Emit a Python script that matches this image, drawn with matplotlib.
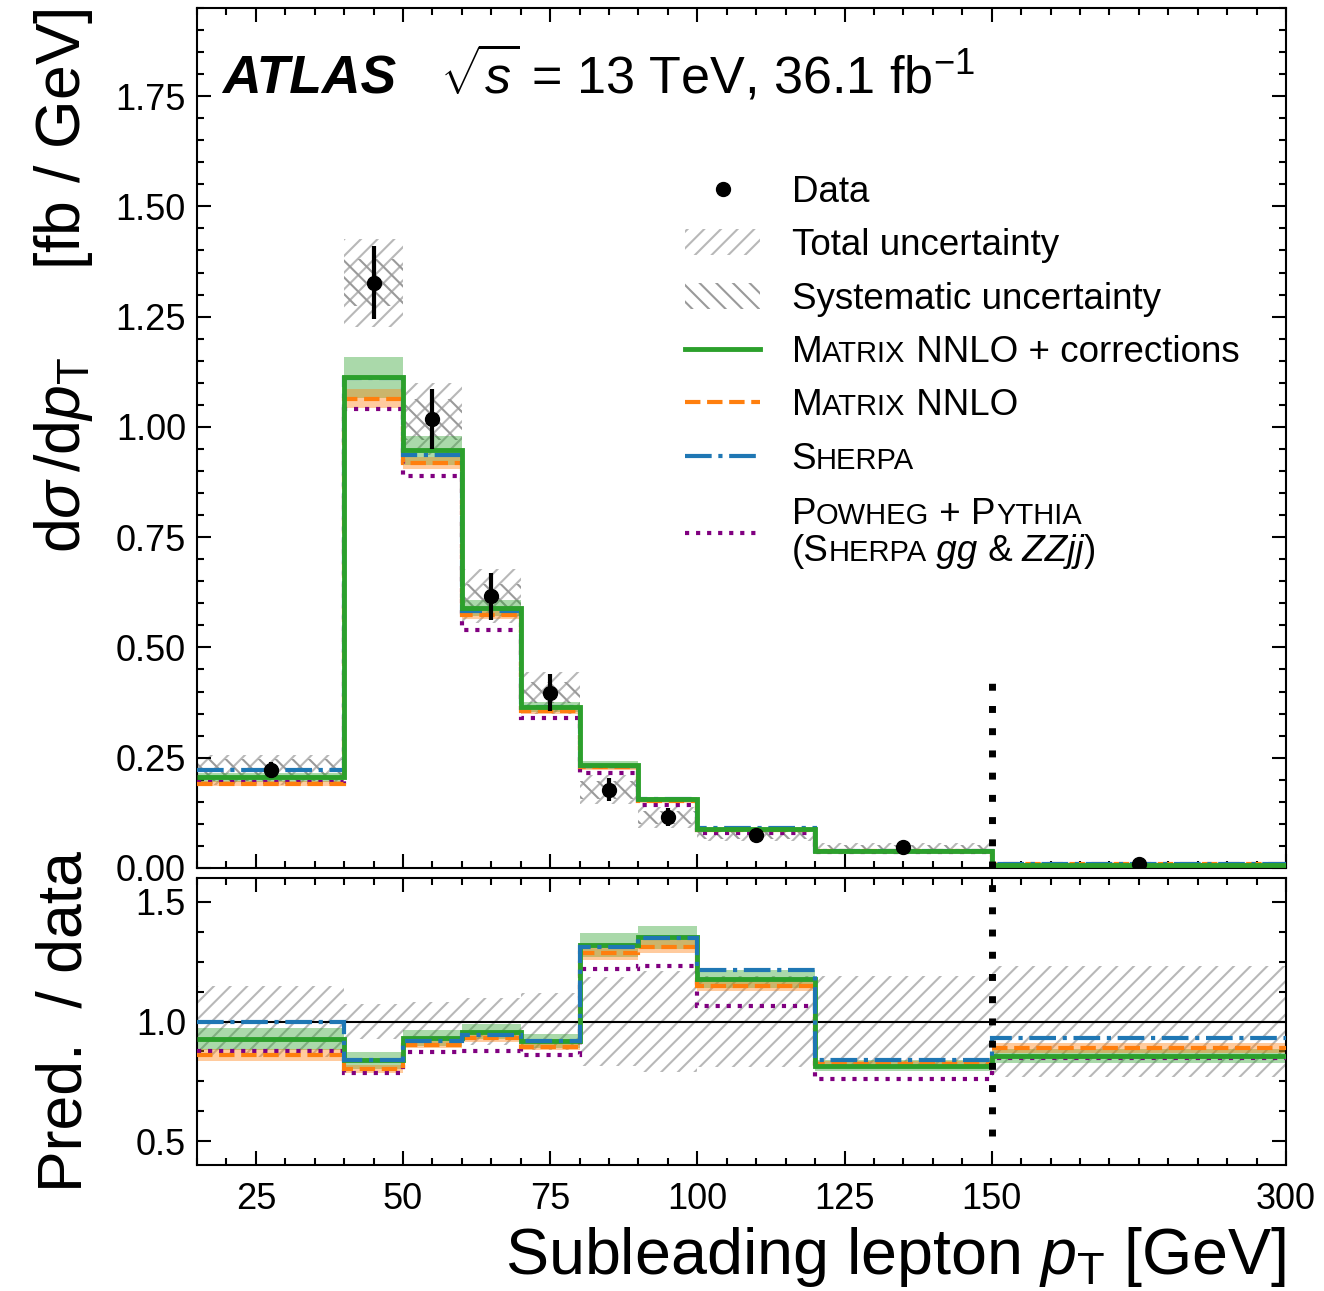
import matplotlib
matplotlib.use('Agg')
import matplotlib.pyplot as plt
import numpy as np
from matplotlib.lines import Line2D
from matplotlib.patches import Patch
from matplotlib.ticker import MultipleLocator, FixedLocator
from matplotlib.offsetbox import TextArea, HPacker, VPacker, AnnotationBbox

plt.rcParams['font.family'] = 'Liberation Sans'
plt.rcParams['mathtext.fontset'] = 'custom'
plt.rcParams['mathtext.rm'] = 'Liberation Sans'
plt.rcParams['mathtext.it'] = 'Liberation Sans:italic'
plt.rcParams['mathtext.bf'] = 'Liberation Sans:bold'
plt.rcParams['hatch.linewidth'] = 1.5

# --- data ---
# bin edges, the last bin (150-300 GeV) is drawn squeezed into 150-200
edges = [15, 40, 50, 60, 70, 80, 90, 100, 120, 150, 200]
tick_pos = [25, 50, 75, 100, 125, 150, 200]
tick_lab = ['25', '50', '75', '100', '125', '150', '300']

data = [0.222, 1.327, 1.017, 0.616, 0.397, 0.177, 0.115, 0.075, 0.047, 0.009]
data_stat = [0.018, 0.083, 0.068, 0.053, 0.042, 0.026, 0.020, 0.012, 0.006, 0.002]
total_rel = [0.15, 0.075, 0.08, 0.10, 0.12, 0.185, 0.21, 0.19, 0.19, 0.23]
syst_rel = [0.11, 0.04, 0.045, 0.045, 0.06, 0.12, 0.13, 0.13, 0.13, 0.12]

# predictions divided by data
r_matrix_corr = [0.927, 0.838, 0.931, 0.958, 0.92, 1.319, 1.353, 1.177, 0.816, 0.855]
r_matrix_corr_unc = [0.045, 0.035, 0.032, 0.03, 0.029, 0.05, 0.048, 0.038, 0.025, 0.03]
r_matrix = [0.86, 0.802, 0.903, 0.93, 0.895, 1.288, 1.313, 1.147, 0.823, 0.89]
r_matrix_unc = [0.024, 0.016, 0.014, 0.014, 0.014, 0.03, 0.026, 0.021, 0.01, 0.022]
r_sherpa = [1.0, 0.837, 0.92, 0.945, 0.918, 1.312, 1.35, 1.216, 0.837, 0.931]
r_powheg = [0.878, 0.784, 0.874, 0.877, 0.858, 1.219, 1.233, 1.066, 0.76, 0.848]

edges = np.array(edges, dtype=float)
centers = 0.5 * (edges[1:] + edges[:-1])
widths = np.diff(edges)
data = np.array(data)
total_rel = np.array(total_rel)
syst_rel = np.array(syst_rel)
r_matrix_corr = np.array(r_matrix_corr)
r_matrix_corr_unc = np.array(r_matrix_corr_unc)
r_matrix = np.array(r_matrix)
r_matrix_unc = np.array(r_matrix_unc)
r_sherpa = np.array(r_sherpa)
r_powheg = np.array(r_powheg)

C_GREEN = '#2ca02c'
C_ORANGE = '#ff7f0e'
C_BLUE = '#1f77b4'
C_PURPLE = 'purple'
TOT_COL = '#b8b8b8'
SYS_COL = '#9a9a9a'
FS = 26.5
SC = 21

fig = plt.figure(figsize=(13.24, 12.91), dpi=100)
ax = fig.add_axes([0.1488, 0.3277, 0.8225, 0.6662])
rax = fig.add_axes([0.1488, 0.0976, 0.8225, 0.2223])


def draw_panel(a, scale, show_data):
    # scale = data for the cross-section panel, 1 for the ratio panel
    a.bar(centers, 2 * scale * total_rel, width=widths, bottom=scale * (1 - total_rel),
          fill=False, hatch='//', edgecolor=TOT_COL, lw=0, zorder=1)
    if show_data:
        a.bar(centers, 2 * scale * syst_rel, width=widths, bottom=scale * (1 - syst_rel),
              fill=False, hatch='\\\\', edgecolor=SYS_COL, lw=0, zorder=1)
    a.bar(centers, 2 * scale * r_matrix_corr_unc, width=widths,
          bottom=scale * (r_matrix_corr - r_matrix_corr_unc),
          color=C_GREEN, alpha=0.4, lw=0, zorder=2)
    a.bar(centers, 2 * scale * r_matrix_unc, width=widths,
          bottom=scale * (r_matrix - r_matrix_unc),
          color=C_ORANGE, alpha=0.4, lw=0, zorder=2)
    a.stairs(scale * r_powheg, edges, baseline=None, color=C_PURPLE, ls=':', lw=3, zorder=3)
    a.stairs(scale * r_matrix, edges, baseline=None, color=C_ORANGE, ls='--', lw=3, zorder=3)
    if show_data:
        a.stairs(scale * r_sherpa, edges, baseline=None, color=C_BLUE, ls='-.', lw=3, zorder=4)
        a.stairs(scale * r_matrix_corr, edges, baseline=None, color=C_GREEN, ls='-', lw=3.5, zorder=5)
        a.errorbar(centers, data, yerr=data_stat, fmt='o', color='k', ms=10,
                   elinewidth=3, capsize=0, zorder=10)
    else:
        a.stairs(scale * r_matrix_corr, edges, baseline=None, color=C_GREEN, ls='-', lw=3.5, zorder=4)
        a.stairs(scale * r_sherpa, edges, baseline=None, color=C_BLUE, ls='-.', lw=3, zorder=5)


draw_panel(ax, data, True)
draw_panel(rax, 1.0, False)
rax.axhline(1.0, color='k', lw=1.5, zorder=2.5)

# boundary of the last (wide) bin
dots = (0, (1, 2.2))
ax.axvline(150, ymin=0, ymax=0.43 / 1.95, color='k', ls=dots, lw=5, zorder=6)
rax.axvline(150, ymin=0.1, ymax=1, color='k', ls=dots, lw=5, zorder=6)

for a in (ax, rax):
    a.set_xlim(15, 200)
    a.xaxis.set_major_locator(FixedLocator(tick_pos))
    a.xaxis.set_minor_locator(MultipleLocator(5))
    a.tick_params(which='both', direction='in', top=True, right=True, width=1.5, labelsize=26)
    a.tick_params(axis='y', pad=8)
    a.tick_params(axis='x', pad=12)
    a.tick_params(which='major', length=10)
    a.tick_params(which='minor', length=5)
    for s in a.spines.values():
        s.set_linewidth(1.5)

ax.set_ylim(0, 1.95)
ax.yaxis.set_major_locator(MultipleLocator(0.25))
ax.yaxis.set_minor_locator(MultipleLocator(0.05))
ax.tick_params(labelbottom=False)

rax.set_ylim(0.4, 1.6)
rax.yaxis.set_major_locator(MultipleLocator(0.5))
rax.yaxis.set_minor_locator(MultipleLocator(0.125))
rax.set_xticks(tick_pos, tick_lab)

ax.set_ylabel(r'd$\sigma\,$/d$p_{\mathrm{T}}$     [fb / GeV]', fontsize=45, loc='top')
ax.yaxis.set_label_coords(-0.094, 1.0)
rax.set_ylabel('Pred.  / data', fontsize=45)
rax.yaxis.set_label_coords(-0.094, 0.5)
rax.set_xlabel(r'Subleading lepton $p_{\mathrm{T}}$ [GeV]', fontsize=46.5, loc='right')
rax.xaxis.set_label_coords(1.0, -0.21)

ax.text(0.023, 0.9, 'ATLAS', transform=ax.transAxes, fontsize=38.5,
        fontweight='bold', fontstyle='italic', va='baseline')
ax.text(0.223, 0.9, r'$\sqrt{s}$ = 13 TeV, 36.1 fb$^{-1}$', transform=ax.transAxes,
        fontsize=37.5, va='baseline')

# --- legend ---
handles = [
    Line2D([], [], marker='o', ls='none', color='k', ms=10),
    Patch(fill=False, hatch='//', edgecolor=TOT_COL, lw=0),
    Patch(fill=False, hatch='\\\\', edgecolor=SYS_COL, lw=0),
    Line2D([], [], color=C_GREEN, ls='-', lw=3.5),
    Line2D([], [], color=C_ORANGE, ls='--', lw=3),
    Line2D([], [], color=C_BLUE, ls='-.', lw=3),
    Line2D([], [], color=C_PURPLE, ls=':', lw=3),
]
labels = ['Data', 'Total uncertainty', 'Systematic uncertainty',
          'MATRIX NNLO + corrections', 'MATRIX NNLO', 'SHERPA',
          'POWHEG + PYTHIA\n(SHERPA gg & ZZjj)']
leg = ax.legend(handles, labels, loc='upper left', bbox_to_anchor=(0.448, 0.806),
                frameon=False, fontsize=FS, handlelength=2.05, handletextpad=0.85,
                labelspacing=0.5, borderpad=0, borderaxespad=0)

N, I = 'normal', 'italic'
label_parts = [
    None, None, None,
    [[('M', FS, N), ('ATRIX', SC, N), (' NNLO + corrections', FS, N)]],
    [[('M', FS, N), ('ATRIX', SC, N), (' NNLO', FS, N)]],
    [[('S', FS, N), ('HERPA', SC, N)]],
    [[('P', FS, N), ('OWHEG', SC, N), (' + P', FS, N), ('YTHIA', SC, N)],
     [('(S', FS, N), ('HERPA', SC, N), (' gg', FS, I), (' &', FS, N),
      (' ZZjj', FS, I), (')', FS, N)]],
]

fig.canvas.draw()
renderer = fig.canvas.get_renderer()
for txt, parts in zip(leg.get_texts(), label_parts):
    if parts is None:
        continue
    bb = txt.get_window_extent(renderer)
    txt.set_visible(False)
    lines = []
    for line in parts:
        kids = [TextArea(t, textprops=dict(fontsize=s, fontstyle=st)) for t, s, st in line]
        lines.append(HPacker(children=kids, align='baseline', pad=0, sep=0))
    box = lines[0] if len(lines) == 1 else VPacker(children=lines, align='left', pad=0, sep=1)
    ab = AnnotationBbox(box, (bb.x0, 0.5 * (bb.y0 + bb.y1)), xycoords='figure pixels',
                        box_alignment=(0, 0.5), frameon=False, pad=0)
    fig.add_artist(ab)

fig.savefig('out.png', dpi=100)
